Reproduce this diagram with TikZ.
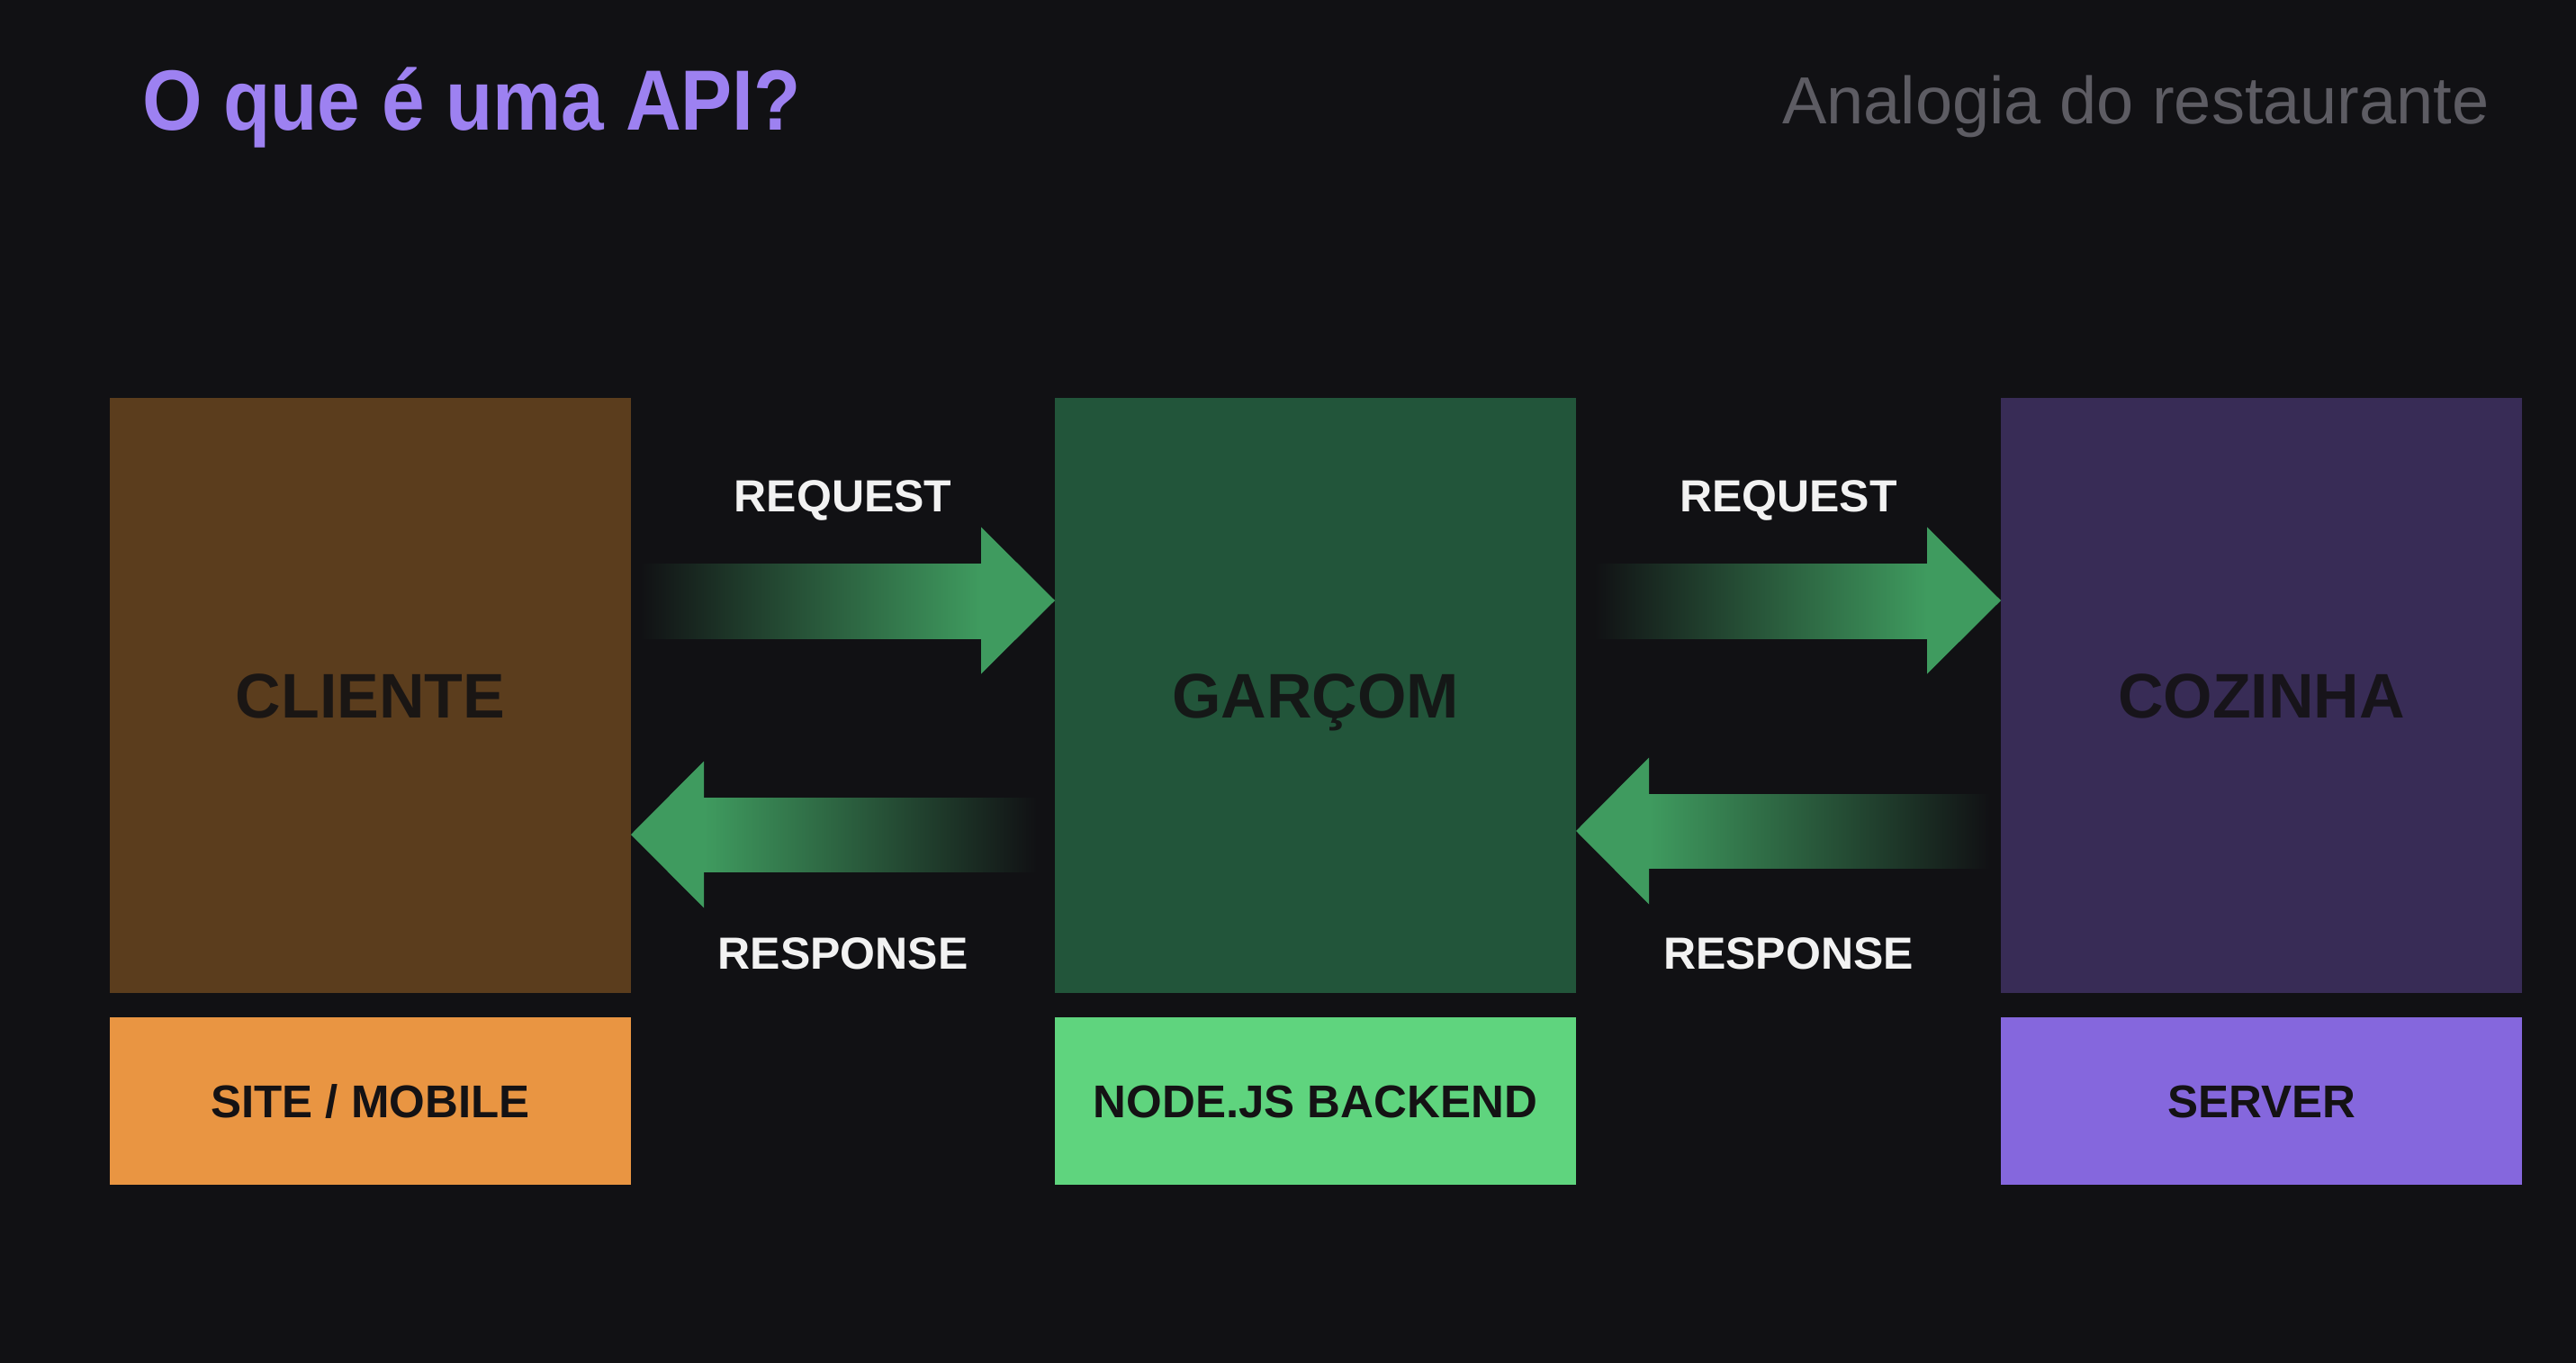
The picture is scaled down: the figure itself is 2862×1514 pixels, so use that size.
\documentclass[tikz,border=0pt]{standalone}
\usepackage{fontspec}
\setmainfont{Liberation Sans}
\newfontfamily\titlefont[FakeStretch=0.9]{Liberation Sans}
\usetikzlibrary{calc}
\definecolor{bg}{HTML}{111114}
\definecolor{clifill}{HTML}{5B3D1D}
\definecolor{garfill}{HTML}{22553A}
\definecolor{cozfill}{HTML}{382C56}
\definecolor{siteorange}{HTML}{E99542}
\definecolor{nodegreen}{HTML}{5FD47E}
\definecolor{servpurple}{HTML}{8567DD}
\definecolor{titlepurple}{HTML}{9D81F1}
\definecolor{subgray}{HTML}{5D5C63}
\definecolor{labwhite}{HTML}{F2F2F2}
\definecolor{darktext}{HTML}{141214}
\definecolor{arrowgreen}{HTML}{3F9B5F}
\begin{document}
\begin{tikzpicture}[x=1pt,y=-1pt,
  mainbox/.style={minimum width=579pt, minimum height=661pt, inner sep=0pt, outer sep=0pt,
    font=\fontsize{70}{80}\selectfont\bfseries, text=darktext, text opacity=0.9,
    text height=50pt, text depth=0pt},
  subbox/.style={minimum width=579pt, minimum height=186pt, inner sep=0pt, outer sep=0pt,
    font=\fontsize{51}{60}\selectfont\bfseries, text=darktext,
    text height=36pt, text depth=0pt},
  flowlabel/.style={anchor=base, inner sep=0pt, font=\fontsize{50}{60}\selectfont\bfseries, text=labwhite},
  arrowhead/.style={fill=arrowgreen, draw=none},
]
\useasboundingbox (0,0) rectangle (2862,1514);
\fill[bg] (0,0) rectangle (2862,1514);

% titles
\node[anchor=base west, inner sep=0pt, text=titlepurple, font=\titlefont\fontsize{95}{100}\selectfont\bfseries] (title) at (158,145) {O que é uma API?};
\node[anchor=base east, inner sep=0pt, text=subgray, font=\fontsize{74}{80}\selectfont] (subtitle) at (2766,138) {Analogia do restaurante};

% main boxes
\node[mainbox, fill=clifill] (cli) at (411.5,772.5) {CLIENTE};
\node[mainbox, fill=garfill] (gar) at (1461.5,772.5) {GARÇOM};
\node[mainbox, fill=cozfill] (coz) at (2512.5,772.5) {COZINHA};

% sub boxes
\node[subbox, fill=siteorange] (site) at (411.5,1223) {SITE / MOBILE};
\node[subbox, fill=nodegreen] (node) at (1461.5,1223) {NODE.JS BACKEND};
\node[subbox, fill=servpurple] (server) at (2512.5,1223) {SERVER};

% arrow: cliente -> garcom (request)
\coordinate (r1tip) at ($(gar.north west)+(0,225)$);
\shade[left color=bg, right color=arrowgreen] ($(cli.north east)+(10,184)$) rectangle ($(r1tip)+(-82,42)$);
\path[arrowhead] (r1tip) -- ++(-82,-81.5) -- ++(0,163) -- cycle;

% arrow: garcom -> cliente (response)
\coordinate (s1tip) at ($(cli.north east)+(0,485)$);
\shade[left color=arrowgreen, right color=bg] ($(s1tip)+(81,-41)$) rectangle ($(gar.north west)+(-20,526)$);
\path[arrowhead] (s1tip) -- ++(81,-81.5) -- ++(0,163) -- cycle;

% arrow: garcom -> cozinha (request)
\coordinate (r2tip) at ($(coz.north west)+(0,225)$);
\shade[left color=bg, right color=arrowgreen] ($(gar.north east)+(20,184)$) rectangle ($(r2tip)+(-82,42)$);
\path[arrowhead] (r2tip) -- ++(-82,-81.5) -- ++(0,163) -- cycle;

% arrow: cozinha -> garcom (response)
\coordinate (s2tip) at ($(gar.north east)+(0,481)$);
\shade[left color=arrowgreen, right color=bg] ($(s2tip)+(81,-41)$) rectangle ($(coz.north west)+(-12,522)$);
\path[arrowhead] (s2tip) -- ++(81,-81.5) -- ++(0,163) -- cycle;

% flow labels
\node[flowlabel] (req1) at ($(cli.north east)!0.5!(gar.north west)+(0,126)$) {REQUEST};
\node[flowlabel] (res1) at ($(cli.north east)!0.5!(gar.north west)+(0,634)$) {RESPONSE};
\node[flowlabel] (req2) at ($(gar.north east)!0.5!(coz.north west)+(0,126)$) {REQUEST};
\node[flowlabel] (res2) at ($(gar.north east)!0.5!(coz.north west)+(0,634)$) {RESPONSE};
\end{tikzpicture}
\end{document}
